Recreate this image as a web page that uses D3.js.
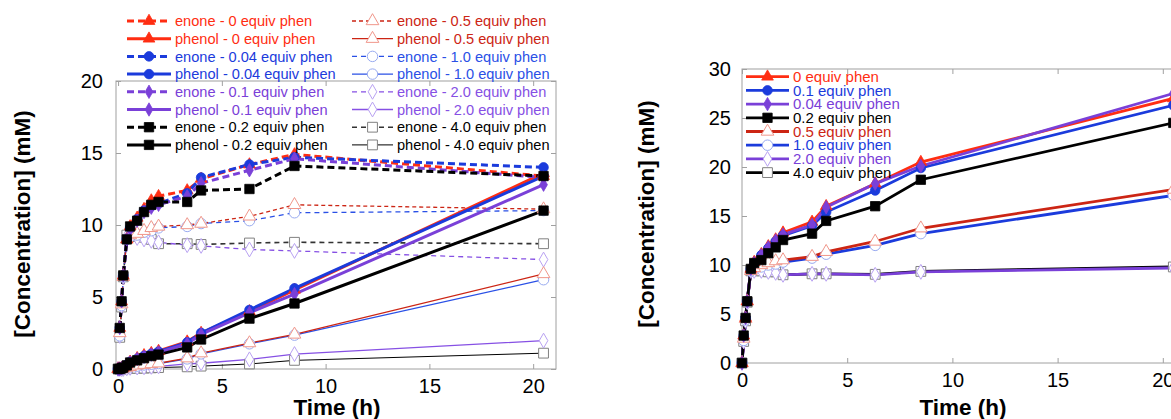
<!DOCTYPE html>
<html>
<head>
<meta charset="utf-8">
<script src="https://cdn.jsdelivr.net/npm/d3@7"></script>
<style>
  body { margin: 0; background: #fff; }
  svg { font-family: Arial, "Liberation Sans", sans-serif; display: block; }
</style>
</head>
<body>
<div class="chart"></div>
<script>
// sampling times (h), shared by both panels
var times = [0, 0.08, 0.17, 0.25, 0.42, 0.58, 0.92, 1.25, 1.6, 1.95, 3.33, 4, 6.33, 8.5, 20.5];
var xTicks = [0, 5, 10, 15, 20];
var yTicksLeft = [0, 5, 10, 15, 20];
var yTicksRight = [0, 5, 10, 15, 20, 25, 30];

// left panel, enone (mM)
var enone0   = [null, 2.85, 4.7, 6.5, 9.0, 9.9, 10.5, 11.1, 11.7, 12.0, 12.4, 13.2, 14.2, 14.9, 13.4];
var enone004 = [null, 2.85, 4.7, 6.5, 9.0, 9.8, 10.4, 11.0, 11.3, 11.5, 12.2, 13.3, 14.2, 14.7, 14.0];
var enone01  = [null, 2.85, 4.7, 6.5, 9.0, 9.7, 10.3, 10.9, 11.2, 11.4, 12.0, 12.9, 13.8, 14.6, 13.3];
var enone02  = [null, 2.85, 4.7, 6.5, 9.0, 9.9, 10.3, 10.9, 11.4, 11.6, 11.6, 12.4, 12.5, 14.1, 13.4];
var enone05  = [null, 2.5, 4.5, 6.4, 9.0, 9.3, 9.4, 9.6, 9.8, 9.9, 10.0, 10.1, 10.6, 11.4, 11.1];
var enone10  = [null, 2.3, 4.4, 6.4, 9.0, 9.2, 9.3, 9.5, 9.6, 9.8, 9.9, 10.1, 10.3, 10.85, 11.0];
var enone20  = [null, 2.3, 4.4, 6.4, 9.2, 9.2, 9.1, 9.0, 8.9, 8.8, 8.6, 8.55, 8.3, 8.2, 7.6];
var enone40  = [null, 2.2, 4.3, 6.4, 9.3, 9.2, 9.2, 9.15, 9.0, 8.7, 8.7, 8.65, 8.75, 8.8, 8.7];

// left panel, phenol (mM)
var phenol0   = [0, 0, 0.05, 0.1, 0.3, 0.5, 0.75, 0.95, 1.1, 1.25, 1.9, 2.5, 4.0, 5.5, 13.6];
var phenol004 = [0, 0, 0.05, 0.1, 0.3, 0.5, 0.7, 0.9, 1.05, 1.2, 1.85, 2.5, 4.1, 5.6, 13.4];
var phenol01  = [0, 0, 0.05, 0.1, 0.3, 0.45, 0.7, 0.85, 1.0, 1.15, 1.75, 2.4, 3.9, 5.2, 12.8];
var phenol02  = [0, 0, 0.05, 0.1, 0.25, 0.45, 0.6, 0.75, 0.9, 1.0, 1.5, 2.05, 3.5, 4.55, 11.0];
var phenol05  = [0, 0, 0, 0.05, 0.1, 0.15, 0.25, 0.3, 0.35, 0.4, 0.75, 1.1, 1.8, 2.4, 6.6];
var phenol10  = [0, 0, 0, 0.05, 0.1, 0.15, 0.2, 0.28, 0.33, 0.38, 0.7, 1.05, 1.75, 2.35, 6.2];
var phenol20  = [0, 0, 0, 0, 0.05, 0.08, 0.1, 0.12, 0.15, 0.18, 0.35, 0.4, 0.67, 1.04, 1.97];
var phenol40  = [0, 0, 0, 0, 0.02, 0.04, 0.05, 0.06, 0.08, 0.1, 0.15, 0.2, 0.35, 0.6, 1.1];

// right panel, total (mM)
var total0   = [0, 2.8, 4.6, 6.3, 9.6, 10.3, 11.1, 11.9, 12.6, 13.3, 14.4, 16.0, 18.3, 20.5, 27.0];
var total01  = [0, 2.8, 4.6, 6.3, 9.6, 10.2, 11.0, 11.7, 12.4, 13.0, 14.0, 15.4, 17.6, 19.9, 26.3];
var total004 = [0, 2.8, 4.6, 6.3, 9.6, 10.2, 11.0, 11.8, 12.5, 13.1, 14.1, 15.9, 18.3, 20.1, 27.5];
var total02  = [0, 2.8, 4.6, 6.3, 9.6, 10.2, 10.5, 11.2, 11.8, 12.55, 13.2, 14.5, 16.0, 18.7, 24.5];
var total05  = [0, 2.5, 4.5, 6.3, 9.4, 9.7, 10.0, 10.2, 10.4, 10.5, 10.85, 11.35, 12.4, 13.75, 17.7];
var total10  = [0, 2.3, 4.4, 6.3, 9.4, 9.6, 9.8, 10.0, 10.1, 10.3, 10.7, 11.1, 12.0, 13.2, 17.1];
var total20  = [0, 2.2, 4.3, 6.2, 9.4, 9.4, 9.4, 9.3, 9.2, 9.0, 9.1, 9.1, 9.0, 9.3, 9.7];
var total40  = [0, 2.2, 4.3, 6.2, 9.4, 9.4, 9.4, 9.3, 9.3, 9.0, 9.1, 9.1, 9.05, 9.35, 9.8];

var red = "#ff2d12", darkRed = "#cc2514", blue = "#1b3bdc", blue2 = "#2a50e6",
    purple = "#7a40d8", purple2 = "#8650e4";
var lightRed = "#f0968a", lightBlue = "#98aaf0", lightPurple = "#b9a2f2", gray = "#808080";

var sym = {tri: d3.symbolTriangle, circ: d3.symbolCircle, dia: d3.symbolDiamond, sq: d3.symbolSquare};
var filledSize = {tri: 60, circ: 72, dia: 52, sq: 88};
var openSize = {tri: 70, circ: 86, dia: 64, sq: 96};

// style table for left panel, in legend order (col 1 then col 2)
var leftSeries = [
  {label: "enone - 0 equiv phen",     v: enone0,    c: red,     mc: red,         s: "tri",  fill: true,  w: 3,   dash: "7,4"},
  {label: "phenol - 0 equiv phen",    v: phenol0,   c: red,     mc: red,         s: "tri",  fill: true,  w: 3,   dash: null},
  {label: "enone - 0.04 equiv phen",  v: enone004,  c: blue,    mc: blue,        s: "circ", fill: true,  w: 3,   dash: "7,4"},
  {label: "phenol - 0.04 equiv phen", v: phenol004, c: blue,    mc: blue,        s: "circ", fill: true,  w: 3,   dash: null},
  {label: "enone - 0.1 equiv phen",   v: enone01,   c: purple,  mc: purple,      s: "dia",  fill: true,  w: 3,   dash: "7,4"},
  {label: "phenol - 0.1 equiv phen",  v: phenol01,  c: purple,  mc: purple,      s: "dia",  fill: true,  w: 3,   dash: null},
  {label: "enone - 0.2 equiv phen",   v: enone02,   c: "#000",  mc: "#000",      s: "sq",   fill: true,  w: 3,   dash: "7,4"},
  {label: "phenol - 0.2 equiv phen",  v: phenol02,  c: "#000",  mc: "#000",      s: "sq",   fill: true,  w: 3,   dash: null},
  {label: "enone - 0.5 equiv phen",   v: enone05,   c: darkRed, mc: lightRed,    s: "tri",  fill: false, w: 1.3, dash: "4,3"},
  {label: "phenol - 0.5 equiv phen",  v: phenol05,  c: darkRed, mc: lightRed,    s: "tri",  fill: false, w: 1.3, dash: null},
  {label: "enone - 1.0 equiv phen",   v: enone10,   c: blue2,   mc: lightBlue,   s: "circ", fill: false, w: 1.3, dash: "5,4"},
  {label: "phenol - 1.0 equiv phen",  v: phenol10,  c: blue2,   mc: lightBlue,   s: "circ", fill: false, w: 1.3, dash: null},
  {label: "enone - 2.0 equiv phen",   v: enone20,   c: purple2, mc: lightPurple, s: "dia",  fill: false, w: 1.3, dash: "5,4"},
  {label: "phenol - 2.0 equiv phen",  v: phenol20,  c: purple2, mc: lightPurple, s: "dia",  fill: false, w: 1.3, dash: null},
  {label: "enone - 4.0 equiv phen",   v: enone40,   c: "#333",  mc: gray,        s: "sq",   fill: false, w: 1.6, dash: "5,4"},
  {label: "phenol - 4.0 equiv phen",  v: phenol40,  c: "#000",  mc: gray,        s: "sq",   fill: false, w: 1,   dash: null}
];

var rightSeries = [
  {label: "0 equiv phen",    v: total0,   c: red,     mc: red,         s: "tri",  fill: true},
  {label: "0.1 equiv phen",  v: total01,  c: blue,    mc: blue,        s: "circ", fill: true},
  {label: "0.04 equiv phen", v: total004, c: purple,  mc: purple,      s: "dia",  fill: true},
  {label: "0.2 equiv phen",  v: total02,  c: "#000",  mc: "#000",      s: "sq",   fill: true},
  {label: "0.5 equiv phen",  v: total05,  c: darkRed, mc: lightRed,    s: "tri",  fill: false},
  {label: "1.0 equiv phen",  v: total10,  c: blue,    mc: lightBlue,   s: "circ", fill: false},
  {label: "2.0 equiv phen",  v: total20,  c: purple,  mc: lightPurple, s: "dia",  fill: false},
  {label: "4.0 equiv phen",  v: total40,  c: "#000",  mc: gray,        s: "sq",   fill: false}
];

var W = 1171, H = 419;
var svg = d3.select(".chart").append("svg").attr("width", W).attr("height", H);

function markerPath(d) {
  return d3.symbol().type(sym[d.s]).size(d.fill ? filledSize[d.s] : openSize[d.s])();
}

function drawPanel(g, x, y, yTicks, series, order, lineWidth, labelGap) {
  var x0 = x.range()[0], x1 = x.range()[1], y0 = y.range()[0], y1 = y.range()[1];

  g.append("rect")
    .attr("x", x0).attr("y", y1).attr("width", x1 - x0).attr("height", y0 - y1)
    .attr("fill", "none").attr("stroke", "#a0a0a0").attr("stroke-width", 1);

  g.append("g").attr("transform", "translate(0," + y0 + ")")
    .call(d3.axisBottom(x).tickValues(xTicks).tickSizeInner(-5).tickSizeOuter(0).tickPadding(10));
  g.append("g").attr("transform", "translate(0," + y1 + ")")
    .call(d3.axisTop(x).tickValues(xTicks).tickSizeInner(-5).tickSizeOuter(0).tickFormat(""));
  g.append("g").attr("transform", "translate(" + x0 + ",0)")
    .call(d3.axisLeft(y).tickValues(yTicks).tickSizeInner(-5).tickSizeOuter(0).tickPadding(labelGap));
  g.append("g").attr("transform", "translate(" + x1 + ",0)")
    .call(d3.axisRight(y).tickValues(yTicks).tickSizeInner(-5).tickSizeOuter(0).tickFormat(""));

  g.selectAll(".domain").remove();
  g.selectAll(".tick line").attr("stroke", "#a0a0a0");
  g.selectAll(".tick text").attr("font-size", 20).attr("font-family", "Arial, 'Liberation Sans', sans-serif").attr("fill", "#000");

  var line = d3.line()
    .defined(function (d) { return d[1] != null; })
    .x(function (d) { return x(d[0]); })
    .y(function (d) { return y(d[1]); });

  order.forEach(function (i) {
    var d = series[i];
    var pts = times.map(function (t, k) { return [t, d.v[k]]; });
    g.append("path").datum(pts)
      .attr("d", line)
      .attr("fill", "none")
      .attr("stroke", d.c)
      .attr("stroke-width", d.w || lineWidth)
      .attr("stroke-dasharray", d.dash || null);
  });
  order.forEach(function (i) {
    var d = series[i];
    var pts = times.map(function (t, k) { return [t, d.v[k]]; }).filter(function (p) { return p[1] != null; });
    g.append("g").selectAll("path").data(pts).join("path")
      .attr("transform", function (p) { return "translate(" + x(p[0]) + "," + y(p[1]) + ")"; })
      .attr("d", markerPath(d))
      .attr("fill", d.fill ? d.mc : "#fff")
      .attr("stroke", d.mc)
      .attr("stroke-width", d.fill ? 0.8 : 1);
  });
}

function legendItem(g, d, xa, xb, yy, fontSize, lineWidth) {
  g.append("line")
    .attr("x1", xa).attr("x2", xb).attr("y1", yy).attr("y2", yy)
    .attr("stroke", d.c).attr("stroke-width", d.w || lineWidth)
    .attr("stroke-dasharray", d.dash || null);
  g.append("path")
    .attr("transform", "translate(" + ((xa + xb) / 2) + "," + yy + ")")
    .attr("d", markerPath(d))
    .attr("fill", d.fill ? d.mc : "#fff")
    .attr("stroke", d.mc).attr("stroke-width", d.fill ? 0.8 : 1);
  g.append("text")
    .attr("x", xb + 4).attr("y", yy).attr("dy", "0.35em")
    .attr("font-size", fontSize).attr("fill", d.c === "#333" ? "#000" : d.c)
    .text(d.label);
}

// ---------- left panel ----------
var xL = d3.scaleLinear().domain([-0.1, 21.1]).range([116, 556]);
var yL = d3.scaleLinear().domain([0, 20]).range([369, 81]);
var gL = svg.append("g");
drawPanel(gL, xL, yL, yTicksLeft, leftSeries,
  [15, 14, 13, 12, 11, 10, 9, 8, 1, 3, 5, 7, 0, 2, 4, 6], 3, 13);

gL.append("text").attr("x", 337).attr("y", 415).attr("text-anchor", "middle")
  .attr("font-size", 22.5).attr("font-weight", "bold").text("Time (h)");
gL.append("text").attr("transform", "translate(30,224) rotate(-90)").attr("text-anchor", "middle")
  .attr("font-size", 22.5).attr("font-weight", "bold").text("[Concentration] (mM)");

var legL = svg.append("g");
leftSeries.forEach(function (d, i) {
  var col = i < 8 ? 0 : 1, row = i % 8;
  var xa = col === 0 ? 127 : 352, xb = col === 0 ? 171 : 393;
  legendItem(legL, d, xa, xb, 21 + row * 17.7, 14.6, 3);
});

// ---------- right panel ----------
var xR = d3.scaleLinear().domain([0, 21.15]).range([742, 1187]);
var yR = d3.scaleLinear().domain([0, 30]).range([363, 69]);
var gR = svg.append("g");
drawPanel(gR, xR, yR, yTicksRight, rightSeries, [7, 6, 5, 4, 0, 1, 2, 3], 2.8, 11);

gR.append("text").attr("x", 963).attr("y", 415).attr("text-anchor", "middle")
  .attr("font-size", 22.5).attr("font-weight", "bold").text("Time (h)");
gR.append("text").attr("transform", "translate(654,214) rotate(-90)").attr("text-anchor", "middle")
  .attr("font-size", 22.5).attr("font-weight", "bold").text("[Concentration] (mM)");

var legR = svg.append("g");
rightSeries.forEach(function (d, i) {
  legendItem(legR, d, 746, 789, 76.7 + i * 13.7, 15, 2.8);
});
</script>
</body>
</html>
